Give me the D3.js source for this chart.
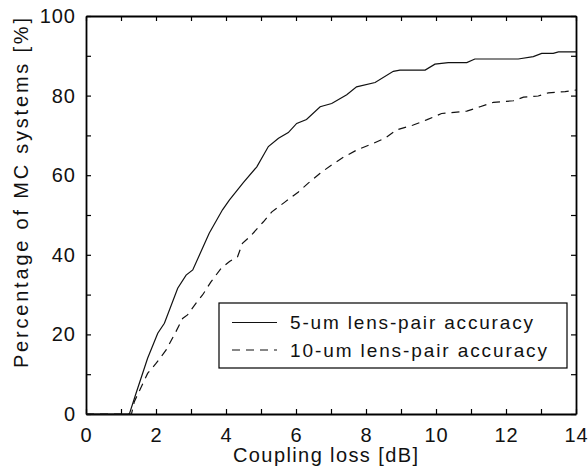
<!DOCTYPE html>
<html><head><meta charset="utf-8">
<script src="https://cdn.jsdelivr.net/npm/d3@7"></script>
<style>
html,body{margin:0;padding:0;background:#fff;}
text{font-family:"Liberation Sans",Arial,Helvetica,sans-serif;fill:#111;}
</style></head>
<body><div id="chart"></div>
<script>
// ---- data ----
const xTickValues = [0,2,4,6,8,10,12,14];
const yTickValues = [0,20,40,60,80,100];
const seriesNames = ["5-um lens-pair accuracy","10-um lens-pair accuracy"];
const solidX = [0,1.24,1.43,1.76,2.05,2.24,2.62,2.86,3.05,3.52,3.9,4.1,4.5,4.88,5.21,5.5,5.78,6.02,6.3,6.69,7.02,7.45,7.73,8.26,8.78,8.97,9.69,9.97,10.35,10.88,11.11,12.35,12.78,13.02,13.35,13.5,14];
const solidY = [0,0,5.2,14.0,20.3,22.8,31.6,34.9,36.2,45.4,51.3,53.8,58.2,62.1,67.2,69.3,70.7,73.0,74.0,77.2,78.0,80.2,82.2,83.3,86.1,86.4,86.4,87.9,88.3,88.3,89.2,89.2,89.8,90.6,90.6,91.0,91.0];
const dashX = [0,1.3,1.38,1.76,2.0,2.29,2.57,2.76,2.9,3.14,3.33,3.57,3.86,4.1,4.33,4.47,4.69,5.07,5.31,5.69,6.07,6.35,6.69,7.02,7.35,7.73,8.21,8.54,8.88,9.35,9.73,10.16,10.88,11.26,11.64,12.21,12.5,12.92,13.21,13.69,14];
const dashY = [0,0,3.1,10.2,12.7,16.1,20.7,24.0,24.9,27.8,29.9,33.2,36.6,38.3,39.5,42.9,44.6,48.3,50.8,53.3,55.8,58.0,60.5,62.6,64.5,66.3,68.0,69.3,71.4,72.6,73.9,75.5,76.1,77.2,78.3,78.7,79.6,79.9,80.7,81.0,81.4];

// ---- layout ----
const W=588,H=470;
const m={left:86,right:12,top:16,bottom:56};
const svg=d3.select("#chart").append("svg").attr("width",W).attr("height",H);
const x=d3.scaleLinear().domain([0,14]).range([m.left,W-m.right]);
const y=d3.scaleLinear().domain([0,100]).range([H-m.bottom,m.top]);
const allX=d3.range(0,15,1), allY=d3.range(0,101,10);

// axes (ticks inside)
const tickLen=5;
const ax=svg.append("g");
function styleAxis(g){g.select(".domain").attr("stroke","#000").attr("stroke-width",1.8);g.selectAll(".tick line").attr("stroke","#000").attr("stroke-width",1.2);}
ax.append("g").attr("transform",`translate(0,${y(0)})`)
  .call(d3.axisBottom(x).tickValues(allX).tickSizeInner(-tickLen).tickSizeOuter(0).tickFormat(d=>xTickValues.includes(d)?d:"").tickPadding(14))
  .call(styleAxis);
ax.append("g").attr("transform",`translate(0,${y(100)})`)
  .call(d3.axisTop(x).tickValues(allX).tickSizeInner(-tickLen).tickSizeOuter(0).tickFormat(""))
  .call(styleAxis);
ax.append("g").attr("transform",`translate(${x(0)},0)`)
  .call(d3.axisLeft(y).tickValues(allY).tickSizeInner(-tickLen).tickSizeOuter(0).tickFormat(d=>yTickValues.includes(d)?d:"").tickPadding(10))
  .call(styleAxis);
ax.append("g").attr("transform",`translate(${x(14)},0)`)
  .call(d3.axisRight(y).tickValues(allY).tickSizeInner(-tickLen).tickSizeOuter(0).tickFormat(""))
  .call(styleAxis);
ax.selectAll(".tick text").attr("font-size",20).attr("letter-spacing","1px").attr("fill","#111")
  .attr("font-family","'Liberation Sans',Arial,sans-serif");

// lines
const line=d3.line().x(d=>x(d[0])).y(d=>y(d[1]));
const solid=solidX.map((v,i)=>[v,solidY[i]]);
const dashed=dashX.map((v,i)=>[v,dashY[i]]);
svg.append("path").datum(solid).attr("d",line).attr("fill","none").attr("stroke","#111").attr("stroke-width",1.2);
svg.append("path").datum(dashed).attr("d",line).attr("fill","none").attr("stroke","#111").attr("stroke-width",1.2).attr("stroke-dasharray","8,6");

// axis labels
svg.append("text").attr("x",233).attr("y",462)
  .attr("font-size",20).attr("textLength",185).attr("lengthAdjust","spacing").text("Coupling loss [dB]");
svg.append("text").attr("transform",`translate(28,368) rotate(-90)`)
  .attr("font-size",20).attr("textLength",350).attr("lengthAdjust","spacing").text("Percentage of MC systems [%]");

// legend
const lg=svg.append("g");
lg.append("rect").attr("x",219).attr("y",303).attr("width",348).attr("height",65).attr("fill","#fff").attr("stroke","#000").attr("stroke-width",1.2);
const rows=[{name:seriesNames[0],dash:null,yy:322.5,len:243},{name:seriesNames[1],dash:"8,6",yy:350,len:257}];
rows.forEach(r=>{
  lg.append("line").attr("x1",232).attr("x2",277).attr("y1",r.yy).attr("y2",r.yy).attr("stroke","#111").attr("stroke-width",1.2).attr("stroke-dasharray",r.dash);
  lg.append("text").attr("x",290).attr("y",r.yy+6.5).attr("font-size",19).attr("textLength",r.len).attr("lengthAdjust","spacing").text(r.name);
});
</script></body></html>
